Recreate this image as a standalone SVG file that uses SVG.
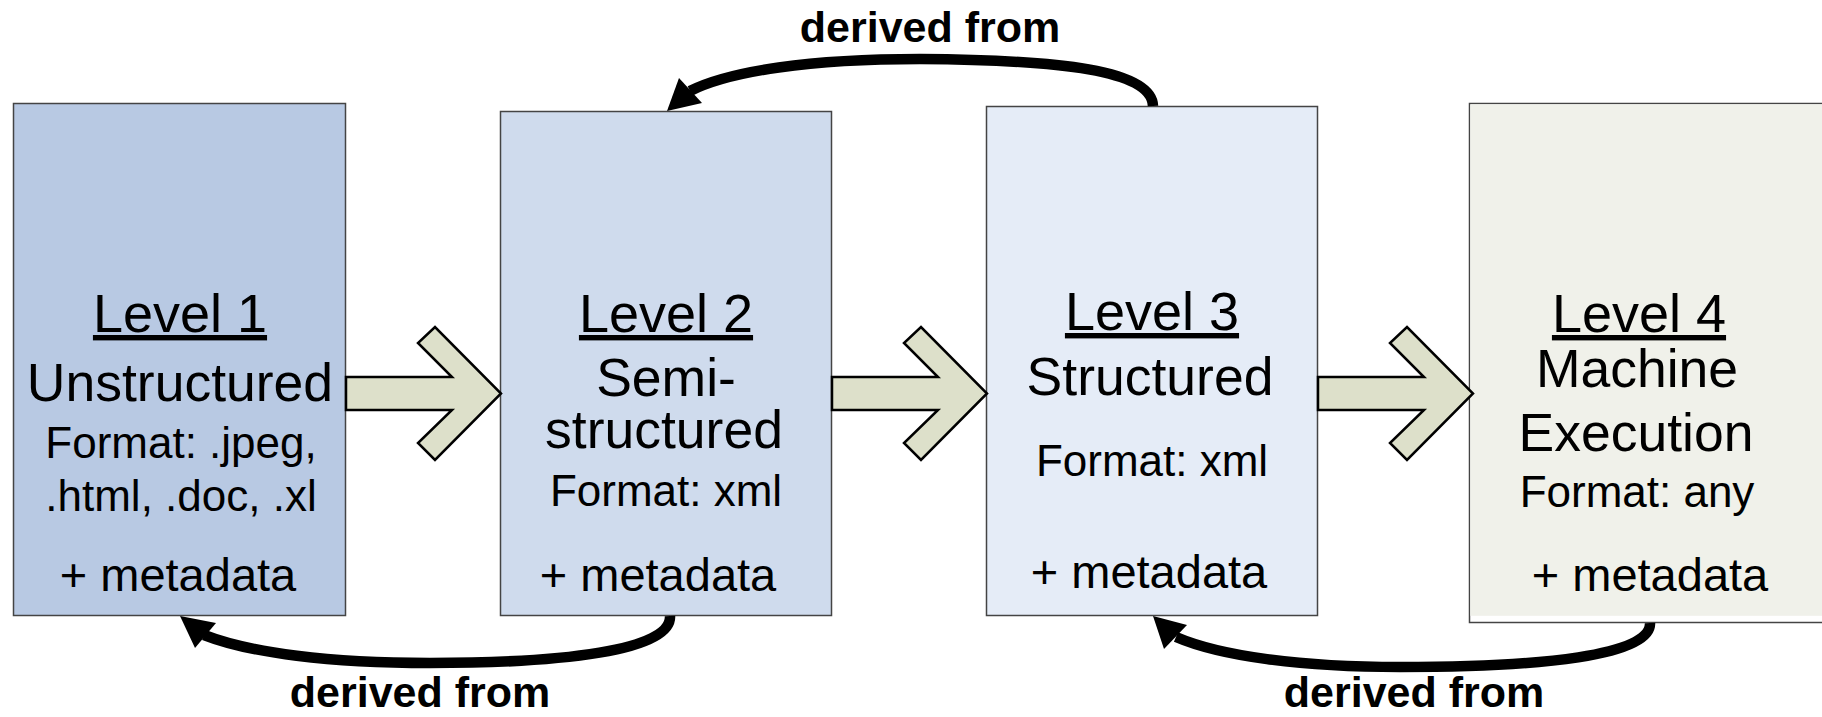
<svg xmlns="http://www.w3.org/2000/svg" width="1822" height="717" viewBox="0 0 1822 717">
<style>
.box{stroke:#444;stroke-width:1.5}
.t{font-family:"Liberation Sans",Arial,sans-serif;fill:#000;text-anchor:middle}
.lv{font-size:54px;text-decoration:underline}
.big{font-size:53.5px}
.fmt{font-size:44px}
.meta{font-size:47px}
.lbl{font-family:"Liberation Sans",Arial,sans-serif;font-weight:bold;font-size:43px;text-anchor:middle}
.blk{fill:#dde0ca;stroke:#000;stroke-width:2.5;stroke-linejoin:miter}
.curve{fill:none;stroke:#000;stroke-width:10.5;stroke-linecap:butt}
</style>
<defs>
<path id="blockArrow" d="M0,0 L106,0 L72,-34 L89,-50 L155,16.5 L89,83 L72,66 L106,33 L0,33 Z"/>
</defs>
<rect width="1822" height="717" fill="#fff"/>

<g id="level1">
<rect class="box" x="13.5" y="103.5" width="332" height="512" fill="#b8c9e3"/>
<text class="t lv" x="180" y="332">Level 1</text>
<text class="t big" x="180" y="401">Unstructured</text>
<text class="t fmt" x="181" y="458">Format: .jpeg,</text>
<text class="t fmt" x="181" y="511">.html, .doc, .xl</text>
<text class="t meta" x="178" y="591">+ metadata</text>
</g>

<g id="level2">
<rect class="box" x="500.5" y="111.5" width="331" height="504" fill="#cfdbed"/>
<text class="t lv" x="666" y="332">Level 2</text>
<text class="t big" x="666" y="396">Semi-</text>
<text class="t big" x="664" y="448">structured</text>
<text class="t fmt" x="666" y="506">Format: xml</text>
<text class="t meta" x="658" y="591">+ metadata</text>
</g>

<g id="level3">
<rect class="box" x="986.5" y="106.5" width="331" height="509" fill="#e5ecf7"/>
<text class="t lv" x="1152" y="330">Level 3</text>
<text class="t big" x="1150" y="395">Structured</text>
<text class="t fmt" x="1152" y="476">Format: xml</text>
<text class="t meta" x="1149" y="588">+ metadata</text>
</g>

<g id="level4">
<rect class="box" x="1469.5" y="103.5" width="360" height="519" fill="#fff"/>
<rect x="1470.3" y="104.3" width="360" height="511.5" fill="#f0f1ea"/>
<text class="t lv" x="1639" y="332">Level 4</text>
<text class="t big" x="1637" y="387">Machine</text>
<text class="t big" x="1636" y="451">Execution</text>
<text class="t fmt" x="1637" y="507">Format: any</text>
<text class="t meta" x="1650" y="591">+ metadata</text>
</g>

<g id="connectors">
<use href="#blockArrow" class="blk" x="346" y="377"/>
<use href="#blockArrow" class="blk" x="832" y="377"/>
<use href="#blockArrow" class="blk" x="1318" y="377"/>

<path class="curve" d="M1153,106 C1152,70 1060,60 920,59 C810,59 730,71 690,91"/>
<polygon points="667,111 679,78 702,103"/>
<text class="lbl" x="930" y="42">derived from</text>

<path class="curve" d="M670,616 C672,651 560,663 430,663 C330,663 250,653 204,635"/>
<polygon points="180,616 195,648 216,623"/>
<text class="lbl" x="420" y="707">derived from</text>

<path class="curve" d="M1650,623 C1652,656 1540,667 1400,667 C1300,667 1220,656 1176,637"/>
<polygon points="1153,616 1164,649 1187,625"/>
<text class="lbl" x="1414" y="707">derived from</text>
</g>
</svg>
